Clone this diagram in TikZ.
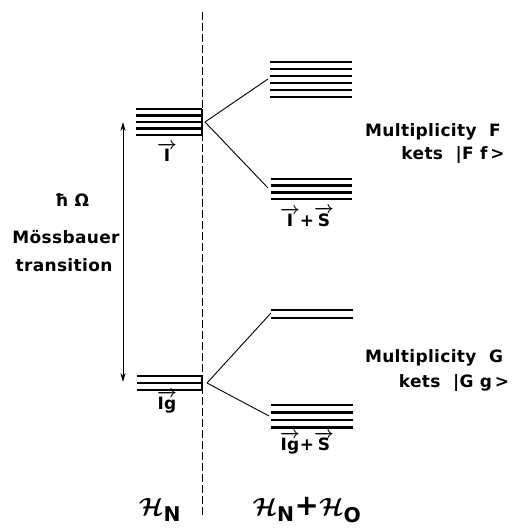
\documentclass[tikz,border=0pt]{standalone}
\usepackage{amsmath}
\usepackage{bm}
\usepackage{fontspec}
\setmainfont{DejaVu Sans}[LetterSpace=2.0]
\usetikzlibrary{calc,positioning,arrows.meta}

\tikzset{
  levelline/.style={line width=2.6pt},
  fanline/.style={line width=0.9pt},
  lbl/.style={font=\fontsize{17}{20}\selectfont\bfseries, inner sep=0pt},
  hamlbl/.style={font=\fontsize{29}{31}\selectfont\bfseries, inner sep=0pt}
}

\begin{document}
\begin{tikzpicture}[x=1pt,y=-1pt]

\useasboundingbox (0,0) rectangle (517,529);

%draw separator
\coordinate (TOP) at (202,12);
\coordinate (BOTTOM) at (202,515);
\draw[dash pattern=on 8pt off 3pt, line width=0.8pt] (TOP) -- (BOTTOM);

%%%%%%%%%%%%%%%%%%%%%

%draw levels of H_N
\foreach \y in {109,115.5,122,128.5,135}
  \draw[levelline] (136,\y) -- (202,\y);
\draw[line width=1.2pt] (202,109) -- (202,135);

\foreach \y in {376,383,390}
  \draw[levelline] (137,\y) -- (202,\y);
\draw[line width=1.2pt] (202,376) -- (202,390);

\coordinate (FORIGIN) at (205,122);
\coordinate (GORIGIN) at (207,383);

%draw levels of H_N + H_0
\foreach \y in {62,69,76,83,90,97}
  \draw[levelline] (270,\y) -- (352,\y);
\foreach \y in {179,185.7,192.3,199}
  \draw[levelline] (271,\y) -- (352,\y);
\foreach \y in {310,318}
  \draw[levelline] (271,\y) -- (353,\y);
\foreach \y in {405,412.5,420,427.5}
  \draw[levelline] (271,\y) -- (353,\y);

\coordinate (FUP) at (268,79);
\coordinate (FDOWN) at (268,188);
\coordinate (GUP) at (271,313);
\coordinate (GDOWN) at (269,416);

%draw splitting
\draw[fanline] (FORIGIN) -- (FUP);
\draw[fanline] (FORIGIN) -- (FDOWN);
\draw[fanline] (GORIGIN) -- (GUP);
\draw[fanline] (GORIGIN) -- (GDOWN);

%%%%%%%%%%%%%%%%%%%%%

%draw transition
\coordinate (EXCITED) at (123,122);
\coordinate (GROUND) at (123,382);
\draw[arrows={Stealth[length=9pt,width=5pt]-Stealth[length=9pt,width=5pt]},line width=0.8pt] (EXCITED) -- (GROUND);

\node[lbl] at (72,200) (HBAR) {ħ Ω};
\node[lbl] at (66,237) (MOSS) {Mössbauer};
\node[lbl] at (64,265) (TRANS) {transition};

%%%%%%%%%%%%%%%%%%%%%

%draw state labels
\node[lbl] at (167,152) (SPINI) {$\bm{\overrightarrow{\text{I}}}$};
\node[lbl] at (167,402) (SPINIG) {$\bm{\overrightarrow{\text{Ig}}}$};
\node[lbl] at (307,217) (SPINIS) {$\bm{\overrightarrow{\text{I}}}\text{+}\bm{\overrightarrow{\text{S}}}$};
\node[lbl] at (307,443) (SPINIGS) {$\bm{\overrightarrow{\text{Ig}}}\text{+}\bm{\overrightarrow{\text{S}}}$};

\node[lbl] at (433,132) (MULTF) {Multiplicity~ F};
\node[lbl] at (453,155) (KETF) {kets~ |F f\,>};
\node[lbl] at (434,358) (MULTG) {Multiplicity~ G};
\node[lbl] at (454,383) (KETG) {kets~ |G g\,>};

%draw hamiltonians
\node[hamlbl] at (160,510) (HAMN) {$\bm{\mathcal{H}}_{\text{N}}$};
\node[hamlbl] at (307,510) (HAMNO) {$\bm{\mathcal{H}}_{\text{N}}\text{+}\bm{\mathcal{H}}_{\text{O}}$};

%%%%%%%%%%%%%%%%%%%%%%

\end{tikzpicture}
\end{document}
